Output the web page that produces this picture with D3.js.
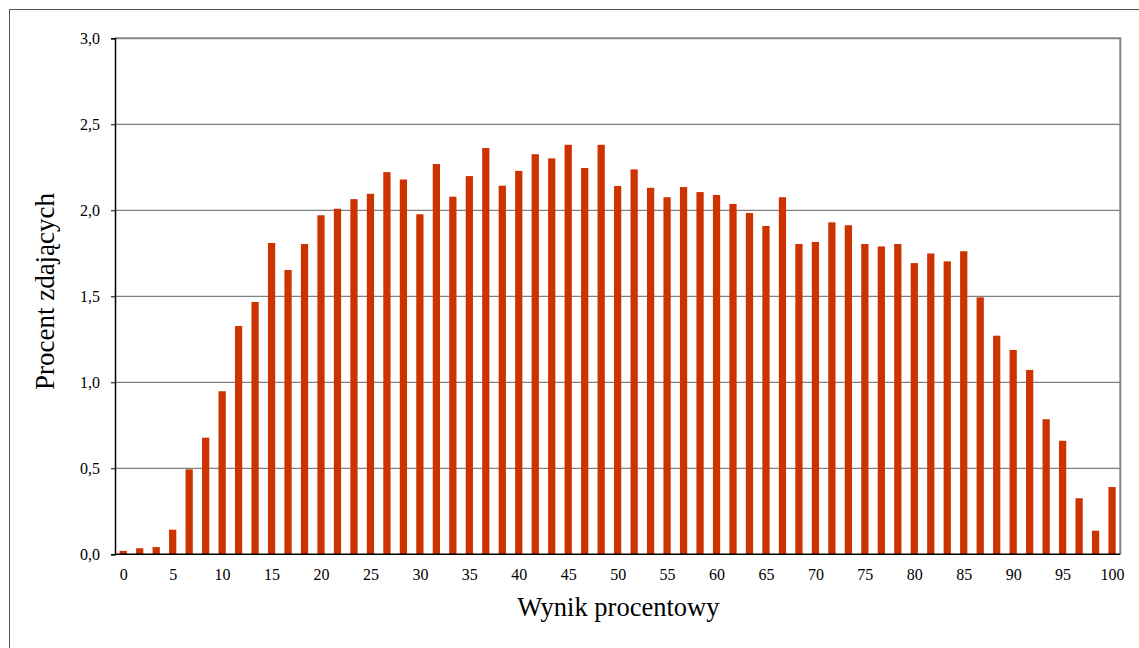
<!DOCTYPE html>
<html>
<head>
<meta charset="utf-8">
<script src="https://cdn.jsdelivr.net/npm/d3@7"></script>
<style>
  html, body { margin: 0; padding: 0; background: #fff; }
  svg { display: block; }
  text { font-family: "Liberation Serif", "Times New Roman", serif; fill: #000; }
</style>
</head>
<body>
<svg id="chart" width="1139" height="648"></svg>
<script>
// Score points (0..60) — each bar is one point score
const points = [0,1,2,3,4,5,6,7,8,9,10,11,12,13,14,15,16,17,18,19,20,21,22,23,24,25,26,27,28,29,30,
  31,32,33,34,35,36,37,38,39,40,41,42,43,44,45,46,47,48,49,50,51,52,53,54,55,56,57,58,59,60];
// Percent of test takers per score
const percents = [0.02,0.035,0.042,0.143,0.494,0.678,0.948,1.327,1.467,1.810,1.653,1.804,1.971,2.009,2.065,
  2.096,2.222,2.179,1.977,2.269,2.079,2.199,2.362,2.143,2.229,2.326,2.302,2.381,2.246,2.381,2.141,
  2.238,2.131,2.076,2.135,2.106,2.089,2.037,1.984,1.909,2.076,1.804,1.816,1.930,1.913,1.804,1.790,
  1.804,1.693,1.749,1.703,1.762,1.494,1.271,1.188,1.072,0.785,0.660,0.326,0.137,0.391];
const xTicks = [0,5,10,15,20,25,30,35,40,45,50,55,60,65,70,75,80,85,90,95,100];
const yTicks = [0,0.5,1.0,1.5,2.0,2.5,3.0];
const maxPoints = 60;

const svg = d3.select("#chart");
const L = 115, T = 38.3, R = 1120.3, B = 554.3;

// outer frame
svg.append("rect").attr("x", 9.5).attr("y", 9.5).attr("width", 1140).attr("height", 650)
  .attr("fill", "#fff").attr("stroke", "#555").attr("stroke-width", 1);

const x = d3.scaleBand().domain(points).range([L, R]).paddingInner(0.56).paddingOuter(0.28);
const xc = d3.scaleLinear().domain([0, 100])
  .range([x(0) + x.bandwidth() / 2, x(maxPoints) + x.bandwidth() / 2]);
const y = d3.scaleLinear().domain([0, 3]).range([B, T]);

// gridlines
svg.append("g").selectAll("line").data(yTicks.filter(d => d > 0 && d < 3)).join("line")
  .attr("x1", L).attr("x2", R).attr("y1", d => y(d)).attr("y2", d => y(d))
  .attr("stroke", "#808080").attr("stroke-width", 1.3);

// bars
svg.append("g").selectAll("rect").data(points).join("rect")
  .attr("x", d => x(d)).attr("width", x.bandwidth())
  .attr("y", (d, i) => y(percents[i])).attr("height", (d, i) => y(0) - y(percents[i]))
  .attr("fill", "#CC3300");

// plot frame top/right
svg.append("path").attr("d", `M${L},${T}H${R}V${B}`).attr("fill", "none")
  .attr("stroke", "#858585").attr("stroke-width", 2);

// y axis
const yAxis = svg.append("g").attr("transform", `translate(${L},0)`)
  .call(d3.axisLeft(y).tickValues(yTicks).tickSize(4).tickPadding(11)
    .tickFormat(d => d3.format(".1f")(d).replace(".", ",")));
yAxis.attr("font-family", null);
yAxis.select(".domain").attr("stroke", "#000").attr("stroke-width", 1.5);
yAxis.selectAll(".tick line").attr("stroke", "#000");
yAxis.selectAll("text").attr("font-size", 16).style("font-family", "'Liberation Serif', serif");

// x axis
svg.append("line").attr("x1", L).attr("x2", R).attr("y1", B).attr("y2", B)
  .attr("stroke", "#000").attr("stroke-width", 1.5);
const xAxis = svg.append("g").attr("transform", `translate(0,${B})`)
  .call(d3.axisBottom(xc).tickValues(xTicks).tickSize(0).tickPadding(14).tickFormat(d3.format("d")));
xAxis.attr("font-family", null);
xAxis.select(".domain").remove();
xAxis.selectAll("text").attr("font-size", 16).style("font-family", "'Liberation Serif', serif");

// titles
svg.append("text").attr("x", 618.3).attr("y", 616).attr("text-anchor", "middle")
  .attr("font-size", 26.5).text("Wynik procentowy");
svg.append("text").attr("transform", "translate(53.5,291.5) rotate(-90)")
  .attr("text-anchor", "middle").attr("font-size", 27).text("Procent zdających");
</script>
</body>
</html>
